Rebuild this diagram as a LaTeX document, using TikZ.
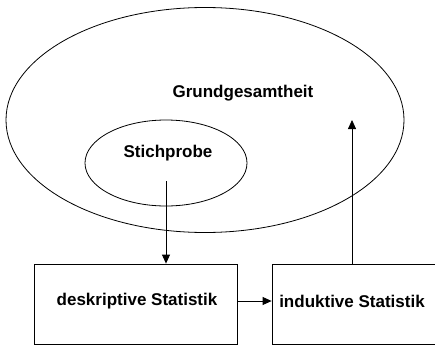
\documentclass[tikz,border=0pt]{standalone}
\usepackage{fontspec}
\setmainfont{Liberation Sans}
\usetikzlibrary{arrows.meta, shapes, positioning}

\begin{document}
\begin{tikzpicture}[x=1pt, y=-1pt,
		lbl/.style={font=\fontsize{17}{20}\selectfont\bfseries, inner sep=0pt},
		oval/.style={draw, ellipse, line width=0.8pt, inner sep=0pt},
		box/.style={draw, line width=0.8pt, minimum height=80pt, inner sep=0pt},
		flow/.style={-{Triangle[length=9pt, width=8pt]}, line width=0.8pt}]
	\useasboundingbox (0,0) rectangle (435,345);
	
	% Population
	\node[oval, minimum width=398pt, minimum height=225pt] (grund) at (205,120) {};
	\node[lbl] (grundtxt) at (243,93) {Grundgesamtheit};
	
	% Sample
	\node[oval, minimum width=162pt, minimum height=86pt] (stich) at (166,163) {};
	\node[lbl] (stichtxt) at (168,153) {Stichprobe};
	\coordinate (stichout) at (166,181);
	
	% Statistics boxes
	\node[box, minimum width=203pt] (desk) at (135.5,304) {};
	\node[lbl] (desktxt) at (137,301) {deskriptive Statistik};
	\node[box, minimum width=170pt] (induk) at (357,304) {};
	\node[lbl] (induktxt) at (352,301) {induktive Statistik};
	\coordinate (grundin) at (352,120);
	
	% Arrows
	\draw[flow] (stichout) -- (stichout |- desk.north);
	\draw[flow] ([yshift=3pt]desk.east) -- ([yshift=3pt]induk.west);
	\draw[flow] (grundin |- induk.north) -- (grundin);
\end{tikzpicture}
\end{document}
